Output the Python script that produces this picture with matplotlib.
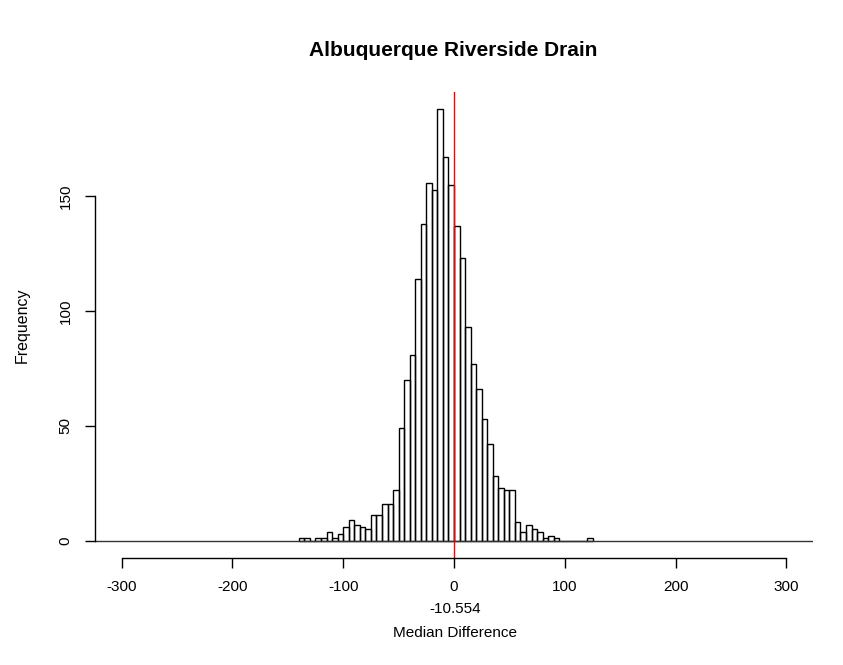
import matplotlib.pyplot as plt
import numpy as np

plt.rcParams['font.family'] = ['Liberation Sans', 'DejaVu Sans']
plt.rcParams['axes.unicode_minus'] = False

# histogram data: bins of width 5 starting at -140
bin_start = -140
bin_width = 5
counts = [1, 1, 0, 1, 1, 4, 1, 3, 6, 9, 7, 6, 5, 11, 11, 16, 16, 22, 49, 70,
          81, 114, 138, 156, 153, 188, 167, 155, 137, 123, 93, 77, 66, 53, 42,
          28, 23, 22, 22, 8, 4, 7, 5, 4, 1, 2, 1, 0, 0, 0, 0, 0, 1]
median_diff = -10.554
x_ticks = [-300, -200, -100, 0, 100, 200, 300]
y_ticks = [0, 50, 100, 150]

left_edges = bin_start + bin_width * np.arange(len(counts))

fig = plt.figure(figsize=(8.43, 6.65), dpi=100)
ax = fig.add_axes([95 / 843, 107 / 665, 718 / 843, 466 / 665])

ax.bar(left_edges, counts, width=bin_width, align='edge',
       fill=False, edgecolor='black', linewidth=1)
ax.axhline(0, color='#333333', linewidth=1)
ax.axvline(0, color='red', linewidth=1)

# R-style axes: 4% padding around the range
ax.set_xlim(-324, 324)
ymax = max(counts)
ax.set_ylim(-0.04 * ymax, 1.04 * ymax)

for s in ['top', 'right']:
    ax.spines[s].set_visible(False)
ax.spines['left'].set_bounds(0, 150)
ax.spines['bottom'].set_bounds(-300, 300)
ax.spines['left'].set_linewidth(1)
ax.spines['bottom'].set_linewidth(1)

ax.set_xticks(x_ticks)
ax.set_yticks(y_ticks)
ax.set_yticklabels([str(v) for v in y_ticks], rotation=90, va='center')
ax.tick_params(axis='both', length=7, width=1, labelsize=11, color='black')
ax.tick_params(axis='y', pad=9)
ax.tick_params(axis='x', pad=9)

fig.text(453 / 843, 1 - 50 / 665, 'Albuquerque Riverside Drain',
         ha='center', va='center', fontsize=15, fontweight='bold')
fig.text(22 / 843, 1 - 325 / 665, 'Frequency', rotation=90,
         ha='center', va='center', fontsize=11.5)
fig.text(455 / 843, 1 - 609 / 665, str(median_diff),
         ha='center', va='center', fontsize=11)
fig.text(455 / 843, 1 - 633 / 665, 'Median Difference',
         ha='center', va='center', fontsize=11)

fig.savefig('out.png', dpi=100)
